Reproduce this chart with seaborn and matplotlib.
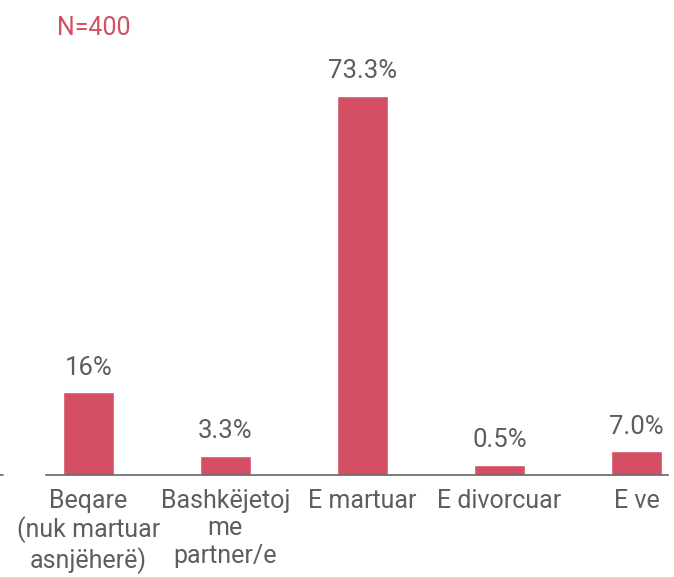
import matplotlib
matplotlib.use("Agg")
import matplotlib.pyplot as plt
import pandas as pd
import seaborn as sns

categories = ["Beqare\n(nuk martuar\nasnjëherë)", "Bashkëjetoj\nme\npartner/e", "E martuar", "E divorcuar", "E ve"]
# bar heights as drawn in the source chart (small bars are not to scale there)
bar_heights = [16, 3.7, 73.3, 2.0, 4.6]
value_labels = ["16%", "3.3%", "73.3%", "0.5%", "7.0%"]
sample_note = "N=400"

bar_color = "#d44f63"
text_color = "#5e5e5e"

sns.set_theme(style="white")
plt.rcParams["font.family"] = ["Roboto", "DejaVu Sans"]

df = pd.DataFrame({"cat": categories, "val": bar_heights})

fig = plt.figure(figsize=(6.74, 5.77), dpi=100)
ax = fig.add_axes([0.068, 0.177, 0.923, 0.72])
sns.barplot(data=df, x="cat", y="val", color=bar_color, saturation=1, width=0.37, ax=ax)

for i, (v, lab) in enumerate(zip(bar_heights, value_labels)):
    ax.text(i, v + 2.4, lab, ha="center", va="bottom", fontsize=18.5, color=text_color)

ax.set_xlim(-0.31, 4.23)
ax.set_ylim(0, 80.3)
ax.set_xlabel("")
ax.set_ylabel("")
ax.set_yticks([])
ax.tick_params(axis="x", length=0, pad=10, labelsize=18, colors=text_color)
for t in ax.get_xticklabels():
    t.set_linespacing(1.18)
for s in ["top", "right", "left"]:
    ax.spines[s].set_visible(False)
ax.spines["bottom"].set_color("#666666")
ax.spines["bottom"].set_linewidth(1.2)

fig.text(0.085, 0.951, sample_note, color=bar_color, fontsize=18, ha="left", va="center")
fig.add_artist(plt.Line2D([0, 0.005], [0.177, 0.177], color="#666666", lw=1.2))

fig.savefig("out.png", dpi=100)
